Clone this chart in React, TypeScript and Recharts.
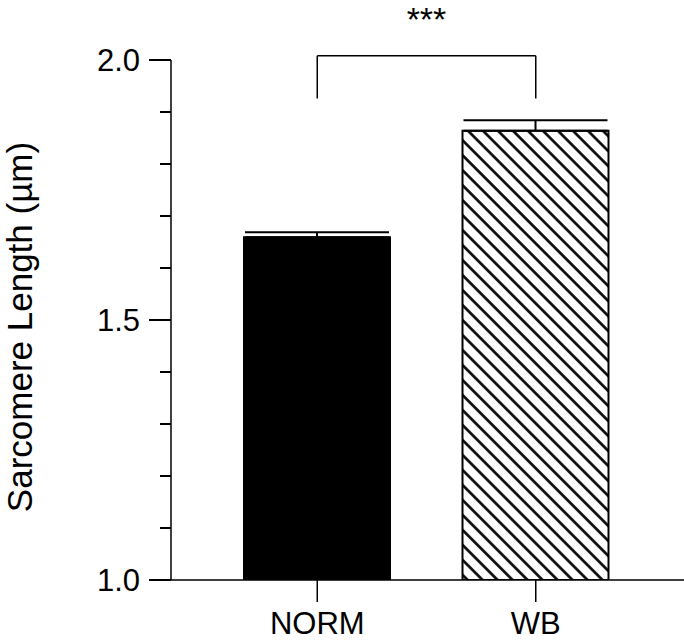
import React from 'react';
import { ComposedChart, Bar, XAxis, YAxis, ErrorBar, ReferenceLine, Label, Cell } from 'recharts';

// ---- data ----
const groups = ['NORM', 'WB'];
const means = [1.659, 1.864];
const sems = [0.0096, 0.02];
const yTicks = [1.0, 1.1, 1.2, 1.3, 1.4, 1.5, 1.6, 1.7, 1.8, 1.9, 2.0];
const majorTicks = [1.0, 1.5, 2.0];
const majorTickLabels = ['1.0', '1.5', '2.0'];
const yDomain = [1.0, 2.0];
const yTitle = 'Sarcomere Length (µm)';
const significance = '***';
const bracketBottom = 1.926;
const bracketTop = 2.008;

const data = groups.map((g, i) => ({ group: g, mean: means[i], err: [0, sems[i]] }));

const FONT = "'Liberation Sans', Arial, Helvetica, sans-serif";

const YTick = (props: any) => {
  const { x, y, payload } = props;
  const v = Number(payload.value);
  const idx = majorTicks.findIndex((m) => Math.abs(m - v) < 1e-6);
  const major = idx >= 0;
  return (
    <g>
      <rect x={x - (major ? 22 : 11)} y={y - 1} width={major ? 22 : 11} height={2} fill="#000" />
      {major && (
        <text x={x - 31} y={y} dy="0.36em" textAnchor="end" fontSize={31} fill="#000" fontFamily={FONT}>
          {majorTickLabels[idx]}
        </text>
      )}
    </g>
  );
};

const YTitle = (props: any) => {
  const vb = props.viewBox || { x: 0, y: 60, width: 171, height: 520 };
  const cx = vb.x + 32;
  const cy = vb.y + vb.height / 2 + 7;
  return (
    <text
      x={cx}
      y={cy}
      transform={`rotate(-90 ${cx} ${cy})`}
      textAnchor="middle"
      fontSize={35}
      fill="#000"
      fontFamily={FONT}
    >
      {yTitle}
    </text>
  );
};

export default function App() {
  return (
    <div style={{ position: 'absolute', left: 0, top: 0, width: 684, height: 640, background: '#fff', fontFamily: FONT }}>
      <svg width={0} height={0} style={{ position: 'absolute' }}>
        <defs>
          <pattern id="hatch" patternUnits="userSpaceOnUse" width={10.6} height={10.6} patternTransform="rotate(45)">
            <rect x={0} y={0} width={10.6} height={10.6} fill="#fff" />
            <line x1={-1} y1={5.3} x2={11.6} y2={5.3} stroke="#000" strokeWidth={2.6} />
          </pattern>
        </defs>
      </svg>
      <ComposedChart width={684} height={640} data={data} margin={{ top: 60, right: 0, bottom: 0, left: 0 }}>
        <XAxis
          dataKey="group"
          type="category"
          padding={{ left: 37, right: 39 }}
          height={60}
          axisLine={{ stroke: '#000', strokeWidth: 1.5 }}
          tickLine={{ stroke: '#000', strokeWidth: 1.5 }}
          tickSize={22}
          tickMargin={10}
          tick={{ fill: '#000', fontSize: 31, fontFamily: FONT }}
        />
        <YAxis
          type="number"
          domain={yDomain}
          ticks={yTicks}
          interval={0}
          minTickGap={0}
          allowDataOverflow
          width={171}
          tickSize={0}
          tickMargin={0}
          tickLine={false}
          axisLine={{ stroke: '#000', strokeWidth: 1.5 }}
          tick={<YTick />}
        >
          <Label content={<YTitle />} />
        </YAxis>
        <Bar dataKey="mean" barSize={146} isAnimationActive={false}>
          {data.map((d, i) => (
            <Cell
              key={d.group}
              fill={i === 0 ? '#000' : 'url(#hatch)'}
              stroke="#000"
              strokeWidth={2}
            />
          ))}
          <ErrorBar dataKey="err" width={72} stroke="#000" strokeWidth={2} isAnimationActive={false} />
        </Bar>
        <ReferenceLine
          segment={[{ x: groups[0], y: bracketBottom }, { x: groups[0], y: bracketTop }]}
          stroke="#000"
          strokeWidth={1.5}
          ifOverflow="visible"
        />
        <ReferenceLine
          segment={[{ x: groups[1], y: bracketBottom }, { x: groups[1], y: bracketTop }]}
          stroke="#000"
          strokeWidth={1.5}
          ifOverflow="visible"
        />
        <ReferenceLine
          segment={[{ x: groups[0], y: bracketTop }, { x: groups[1], y: bracketTop }]}
          stroke="#000"
          strokeWidth={1.5}
          ifOverflow="visible"
        >
          <Label value={significance} position="top" offset={25} fontSize={34} fill="#000" fontFamily={FONT} />
        </ReferenceLine>
      </ComposedChart>
    </div>
  );
}
